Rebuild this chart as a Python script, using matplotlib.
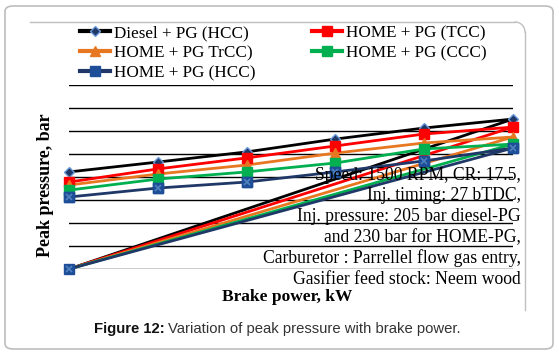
import matplotlib
matplotlib.use("Agg")
import matplotlib.pyplot as plt
from matplotlib.patches import FancyBboxPatch
from matplotlib.lines import Line2D
import numpy as np

# ---- data (y-axis unlabeled, scale 0-80) ----
brake_power = [0, 1, 2, 3, 4, 5]
diesel_hcc = [42.2, 46.5, 50.9, 56.5, 61.3, 65.2]
home_tcc = [37.8, 43.5, 48.3, 53.5, 58.7, 61.7]
home_trcc = [36.5, 41.3, 45.2, 50.4, 54.8, 57.4]
home_ccc = [34.3, 39.1, 42.2, 46.1, 52.2, 54.3]
home_hcc = [31.3, 35.2, 37.8, 42.2, 47.0, 52.6]
closing_value = 0  # stray closing point at first x position
series_labels = ["Diesel + PG (HCC)", "HOME + PG (TCC)", "HOME + PG TrCC)",
                 "HOME + PG (CCC)", "HOME + PG (HCC)"]
note_lines = ["Speed: 1500 RPM, CR: 17.5,", "Inj. timing: 27 bTDC,",
              "Inj. pressure: 205 bar diesel-PG", "and 230 bar for HOME-PG,",
              "Carburetor : Parrellel flow gas entry,", "Gasifier feed stock: Neem wood"]

W, H = 559, 356
fig = plt.figure(figsize=(W / 100, H / 100), dpi=100)
fig.patch.set_facecolor("white")

def px(x, y):
    return x / W, 1 - y / H

# outer rounded border
outer = FancyBboxPatch((5 / W, 1 - 349 / H), 548 / W, 343 / H,
                       boxstyle="round,pad=0,rounding_size=0.015",
                       transform=fig.transFigure, fill=False,
                       edgecolor="#BDBDBD", linewidth=1.2)
fig.patches.append(outer)
# inner chart border (top + right with rounded corner)
fig.add_artist(Line2D([30 / W, 515 / W], [1 - 22 / H, 1 - 22 / H],
                      transform=fig.transFigure, color="#BFBFBF", lw=1))
t = np.linspace(0, np.pi / 2, 20)
cx, cy, r = 515, 32, 10
fig.add_artist(Line2D((cx + r * np.sin(t)) / W, 1 - (cy - r * np.cos(t)) / H,
                      transform=fig.transFigure, color="#BFBFBF", lw=1))
fig.add_artist(Line2D([525 / W, 525 / W], [1 - 32 / H, 1 - 310 / H],
                      transform=fig.transFigure, color="#BFBFBF", lw=1))

ax = fig.add_axes([69 / W, 1 - 269 / H, (513 - 69) / W, (269 - 85) / H])
ax.set_xlim(brake_power[0], brake_power[-1])
ax.set_ylim(0, 80)
ax.set_yticks(range(0, 81, 10))
ax.set_xticks([])
ax.tick_params(left=False, labelleft=False)
ax.grid(axis="y", color="black", linewidth=1)
for s in ax.spines.values():
    s.set_visible(False)
ax.set_facecolor("none")

series = [diesel_hcc, home_tcc, home_trcc, home_ccc, home_hcc]
colors = ["#000000", "#FF0000", "#E87722", "#00B050", "#1F3868"]
markers = ["D", "s", "^", "s", "s"]
msizes = [5, 7, 7, 7, 7]
mfc = ["#1F3868", "#FF0000", "#E87722", "#00B050", "#1F4E99"]
mec = ["#6A9BD8", "#FF0000", "#E87722", "#00B050", "#1F4E99"]
handles = []
for vals, c, m, ms, fc, ec, lab in zip(series, colors, markers, msizes, mfc, mec, series_labels):
    xs = list(brake_power) + [brake_power[0]]
    ys = list(vals) + [closing_value]
    ax.plot(xs, ys, color=c, lw=2, zorder=3, clip_on=False)
    ax.plot(brake_power, vals, ls="none", marker=m, ms=ms, mfc=fc, mec=ec,
            mew=1, zorder=4, clip_on=False)
    if lab == series_labels[-1]:
        ax.plot(xs, ys, ls="none", marker=m, ms=ms, mfc=fc, mec=ec, zorder=4, clip_on=False)
        ax.plot(xs, ys, ls="none", marker="x", ms=5, mec="#4F81BD", mew=1.2,
                zorder=5, clip_on=False)
    h = Line2D([], [], color=c, lw=3, marker=m, ms=ms, mfc=fc, mec=ec)
    handles.append(h)

order = [0, 2, 4, 1, 3]
leg = fig.legend([handles[i] for i in order], [series_labels[i] for i in order],
                 loc="upper left", bbox_to_anchor=px(77, 22), ncol=2,
                 frameon=False, prop={"family": "Liberation Serif", "size": 12.3},
                 handlelength=1.75, handletextpad=0.2, columnspacing=3.35,
                 labelspacing=0.22, borderaxespad=0, borderpad=0.2)

serif_bold = {"family": "Liberation Serif", "weight": "bold"}
fig.text(*px(45, 185), "Peak pressure, bar", rotation=90, ha="center", va="center",
         fontsize=13, **serif_bold)
fig.text(*px(287, 297), "Brake power, kW", ha="center", va="center",
         fontsize=12.5, **serif_bold)

y0 = 175
for i, line in enumerate(note_lines):
    fig.text(*px(521, y0 + 20.8 * i), line, ha="right", va="center",
             fontsize=12.7, family="Liberation Serif")

fig.text(*px(165, 329), "Figure 12:", ha="right", va="center", fontsize=10.7,
         family="Liberation Sans", weight="bold", color="#111111")
fig.text(*px(168, 329), "Variation of peak pressure with brake power.", ha="left",
         va="center", fontsize=10.7, family="Liberation Sans", color="#333333")

fig.savefig("out.png", dpi=100)
